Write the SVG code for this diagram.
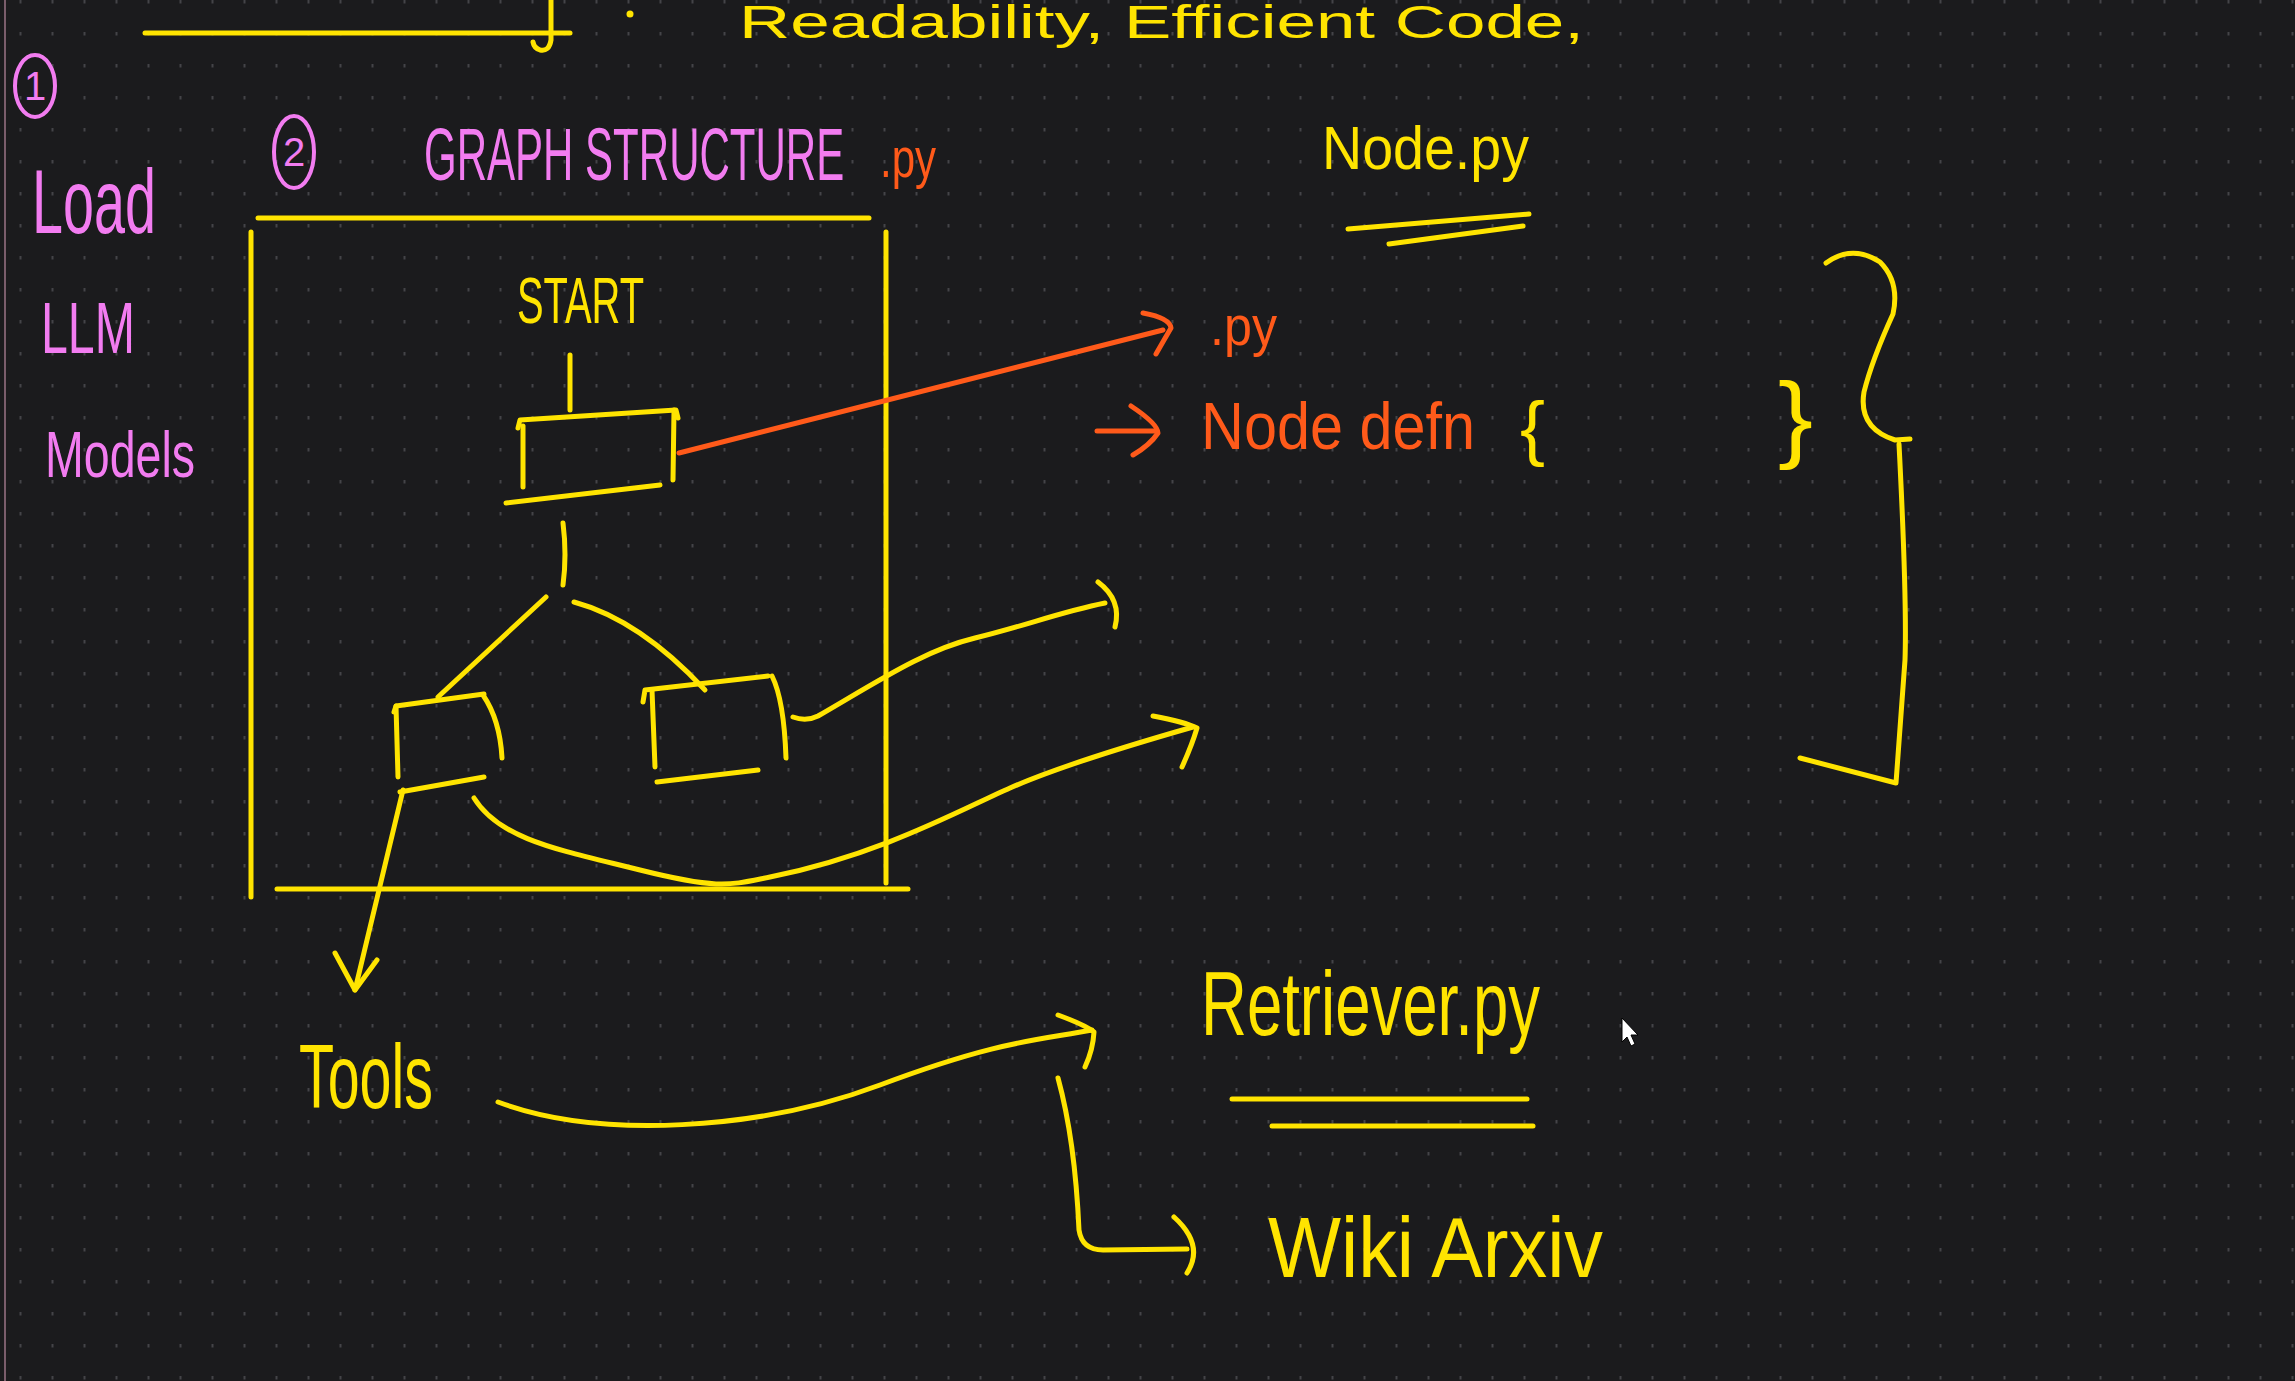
<svg xmlns="http://www.w3.org/2000/svg" width="2295" height="1381" viewBox="0 0 2295 1381">
<defs>
<pattern id="grid" patternUnits="userSpaceOnUse" x="0" y="0" width="32" height="32">
<rect x="19.5" y="0" width="2" height="3.5" fill="#444448"/>
</pattern>
<style>
.y{stroke:#ffe400;fill:none;stroke-width:5;stroke-linecap:round;stroke-linejoin:round}
.o{stroke:#ff5a1a;fill:none;stroke-width:5;stroke-linecap:round;stroke-linejoin:round}
.p{stroke:#f27cf0;fill:none;stroke-width:4}
.ty{fill:#ffe400;font-family:"Liberation Sans",Arial,sans-serif}
.to{fill:#ff5a1a;font-family:"Liberation Sans",Arial,sans-serif}
.tp{fill:#f27cf0;font-family:"Liberation Sans",Arial,sans-serif}
</style>
</defs>
<rect width="2295" height="1381" fill="#1b1b1d"/>
<rect width="2295" height="1381" fill="url(#grid)"/>
<line x1="5" y1="0" x2="5" y2="1381" stroke="#7a5d6b" stroke-width="2"/>

<g id="header">
<line class="y" x1="145" y1="33" x2="570" y2="33" stroke-width="6" stroke-linecap="butt"/>
<path class="y" d="M551,0 L551,40 Q549,52 540,50 Q534,48 533,42"/>
<circle cx="630" cy="14" r="3.5" fill="#ffe400"/>
<text class="ty" x="739" y="38" font-size="46" textLength="845" lengthAdjust="spacingAndGlyphs">Readability, Efficient Code,</text>
</g>

<g id="step1">
<ellipse class="p" cx="35" cy="86" rx="20" ry="31"/>
<text class="tp" x="35" y="100" font-size="40" text-anchor="middle">1</text>
<text class="tp" x="32" y="233" font-size="90" textLength="124" lengthAdjust="spacingAndGlyphs">Load</text>
<text class="tp" x="41" y="353" font-size="72" textLength="94" lengthAdjust="spacingAndGlyphs">LLM</text>
<text class="tp" x="45" y="477" font-size="64" textLength="150" lengthAdjust="spacingAndGlyphs">Models</text>
</g>

<g id="step2">
<ellipse class="p" cx="294" cy="152" rx="20" ry="36"/>
<text class="tp" x="294" y="166" font-size="40" text-anchor="middle">2</text>
<text class="tp" transform="translate(424,180) scale(0.568,1)" x="0" y="0" font-size="74">GRAPH STRUCTURE</text>
<text class="to" x="880" y="177" font-size="56" textLength="56" lengthAdjust="spacingAndGlyphs">.py</text>
</g>

<g id="graph-frame">
<line class="y" x1="258" y1="218" x2="869" y2="218" stroke-width="5" stroke-linecap="butt"/>
<line class="y" x1="251" y1="232" x2="251" y2="897" stroke-width="4" stroke-linecap="butt"/>
<line class="y" x1="886" y1="232" x2="886" y2="883" stroke-width="4" stroke-linecap="butt"/>
<line class="y" x1="277" y1="889" x2="908" y2="889" stroke-width="6" stroke-linecap="butt"/>
</g>

<g id="start-label">
<text class="ty" x="517" y="323" font-size="64" textLength="127" lengthAdjust="spacingAndGlyphs">START</text>
</g>

<g id="node-start">
<path class="y" d="M518,428 L520,420 L676,410 L678,418"/>
<path class="y" d="M523,426 L523,487"/>
<path class="y" d="M674,410 L673,480"/>
<path class="y" d="M506,503 L660,485"/>
</g>

<g id="node-left">
<path class="y" d="M394,712 L396,706 L484,694"/>
<path class="y" d="M396,706 L398,777"/>
<path class="y" d="M483,695 Q500,720 502,758"/>
<path class="y" d="M400,792 L484,777"/>
</g>

<g id="node-right">
<path class="y" d="M643,702 L645,690 L768,676"/>
<path class="y" d="M652,690 L655,767"/>
<path class="y" d="M772,676 Q784,700 786,758"/>
<path class="y" d="M657,782 L758,770"/>
</g>

<g id="node-py">
<text class="to" x="1210" y="345" font-size="56" textLength="67" lengthAdjust="spacingAndGlyphs">.py</text>
</g>

<g id="node-defn">
<text class="to" x="1201" y="449" font-size="66" textLength="274" lengthAdjust="spacingAndGlyphs">Node defn</text>
<text class="ty" x="1520" y="452" font-size="72" textLength="25" lengthAdjust="spacingAndGlyphs">{</text>
<text class="ty" x="1778" y="450" font-size="96" textLength="35" lengthAdjust="spacingAndGlyphs">}</text>
</g>

<g id="node-nodepy">
<text class="ty" x="1322" y="169" font-size="62" textLength="207" lengthAdjust="spacingAndGlyphs">Node.py</text>
<path class="y" d="M1348,229 L1529,214" stroke-width="5"/>
<path class="y" d="M1389,244 L1523,226" stroke-width="5"/>
</g>

<g id="brace">
<path class="y" d="M1826,263 Q1852,244 1880,262 Q1900,282 1893,314 Q1872,360 1864,392 Q1858,428 1895,440 L1910,439"/>
<path class="y" d="M1899,444 Q1907,600 1905,660 L1896,783 L1800,758"/>
</g>

<g id="node-tools">
<text class="ty" x="299" y="1108" font-size="90" textLength="134" lengthAdjust="spacingAndGlyphs">Tools</text>
</g>

<g id="node-retriever">
<text class="ty" x="1201" y="1035" font-size="90" textLength="339" lengthAdjust="spacingAndGlyphs">Retriever.py</text>
<line class="y" x1="1232" y1="1099" x2="1527" y2="1099" stroke-width="6" stroke-linecap="butt"/>
<line class="y" x1="1272" y1="1126" x2="1533" y2="1126" stroke-width="6" stroke-linecap="butt"/>
</g>

<g id="node-wiki">
<text class="ty" x="1268" y="1277" font-size="86" textLength="335" lengthAdjust="spacingAndGlyphs">Wiki Arxiv</text>
</g>

<g id="cursor">
<path d="M1622,1018 L1622,1042 L1627,1037 L1631,1046 L1635,1044 L1631,1035 L1638,1035 Z" fill="#ffffff" stroke="#000" stroke-width="1"/>
</g>

<g id="connectors">
<path class="y" d="M570,355 L570,410"/>
<path class="y" d="M563,523 Q567,555 563,585"/>
<path class="y" d="M546,597 L438,697"/>
<path class="y" d="M574,602 Q640,620 705,690"/>
<path class="o" d="M679,453 L1163,330"/>
<path class="o" d="M1143,313 Q1170,318 1171,328 Q1164,340 1156,354"/>
<path class="o" d="M1097,431 L1156,431"/>
<path class="o" d="M1131,406 Q1158,424 1158,433 Q1150,445 1133,455"/>
<path class="y" d="M793,717 Q806,722 818,716 C880,680 925,650 975,638 S1060,612 1105,603"/>
<path class="y" d="M1098,582 Q1122,600 1115,627"/>
<path class="y" d="M474,798 C500,840 560,850 640,870 S730,885 770,877 C880,855 960,810 1010,788 S1130,745 1193,727"/>
<path class="y" d="M1153,716 Q1185,722 1197,728 Q1192,745 1182,767"/>
<path class="y" d="M403,790 L355,990"/>
<path class="y" d="M335,953 L355,990 L377,960"/>
<path class="y" d="M498,1102 C600,1140 760,1130 880,1085 S1040,1040 1092,1030"/>
<path class="y" d="M1058,1015 Q1085,1025 1094,1032 Q1093,1050 1085,1067"/>
<path class="y" d="M1058,1078 Q1075,1140 1079,1230 Q1082,1250 1103,1250 L1187,1249"/>
<path class="y" d="M1174,1217 Q1205,1245 1187,1273"/>
</g>
</svg>
